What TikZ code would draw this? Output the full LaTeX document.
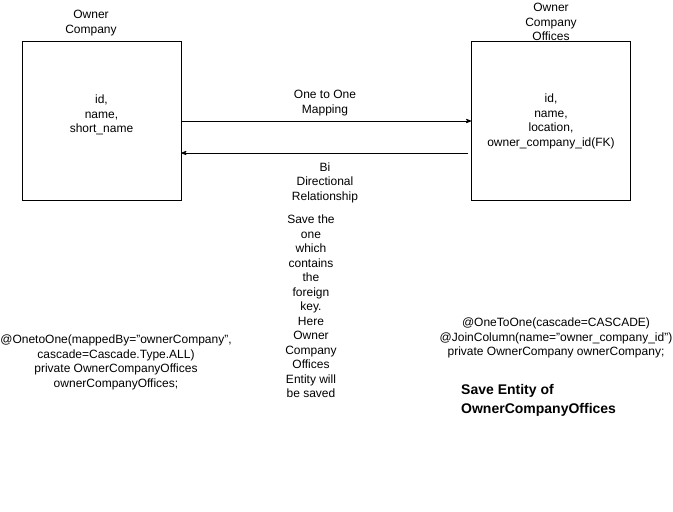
\documentclass[tikz,border=0pt]{standalone}
\usepackage{fontspec}
\setmainfont{Liberation Sans}
\usetikzlibrary{arrows}
\tikzset{entity/.style={draw=black, thick, minimum width=159, minimum height=159, inner sep=0, align=center},
  note/.style={align=center, inner sep=0, font=\fontsize{12}{14.5}\selectfont}}

\begin{document}
\begin{tikzpicture} [x=1pt, y=-1pt, font=\fontsize{12}{14.5}\selectfont]
\useasboundingbox (0,0) rectangle (673,512);
\node[entity] (oc) at (101.5,120.5) {};
\node[note] (ocfields) at ([yshift=5.5]oc.center) {id,\\name,\\short\_name};
\node[entity] (oco) at (551,120.5) {};
\node[note] (ocofields) at ([yshift=-1]oco.center) {id,\\name,\\location,\\owner\_company\_id(FK)};
\node[note] (octitle) at (91,23) {Owner\\Company};
\node[note] (ocotitle) at (551,22) {Owner\\Company\\Offices};
\draw[black, thick, ->, >=stealth'] ([yshift=-0.5]oc.east) -- ([yshift=-0.5]oco.west);
\draw[black, thick, ->, >=stealth'] ([xshift=-3, yshift=-32.5]oco.west) -- ([yshift=-32.5]oc.east);
\node[note] (maplabel) at (325,103) {One to One\\Mapping};
\node[note] (bilabel) at (325,182.5) {Bi\\Directional\\Relationship};
\node[note] (savenote) at (311,306.5) {Save the\\one\\which\\contains\\the\\foreign\\key.\\Here\\Owner\\Company\\Offices\\Entity will\\be saved};
\node[note] (occode) at (116,362.5) {@OnetoOne(mappedBy="ownerCompany",\\cascade=Cascade.Type.ALL)\\private OwnerCompanyOffices\\ownerCompanyOffices;};
\node[note] (ococode) at (556,338) {@OneToOne(cascade=CASCADE)\\@JoinColumn(name="owner\_company\_id")\\private OwnerCompany ownerCompany;};
\node[note, anchor=west, align=left, font=\fontsize{14}{19}\selectfont\bfseries] (savelabel) at (461,400) {Save Entity of\\OwnerCompanyOffices};
\end{tikzpicture}
\end{document}
